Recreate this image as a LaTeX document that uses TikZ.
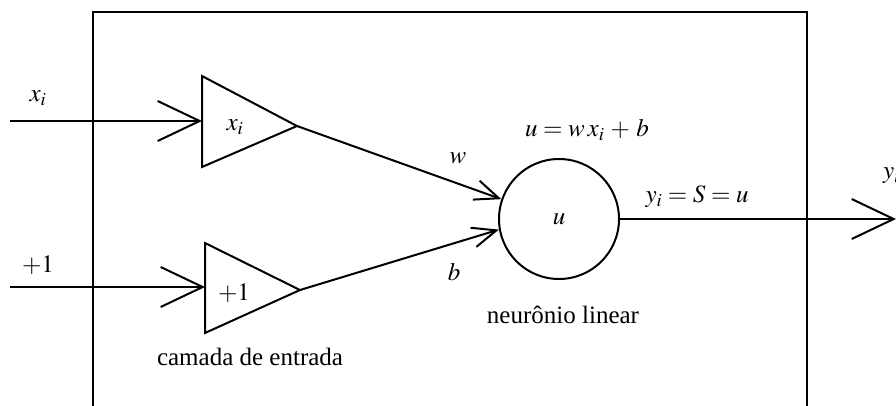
\documentclass[tikz,border=0pt]{standalone}
\usepackage{mathptmx}
\usepackage{fontspec}
\setmainfont{Liberation Serif}
\usetikzlibrary{arrows.meta}

\begin{document}
\begin{tikzpicture}[x=1pt,y=-1pt,line width=2pt,
  every node/.style={font=\fontsize{25}{30}\selectfont,inner sep=0pt},
  bigbarb/.style={-{Straight Barb[length=42pt,width=40pt]}},
  smallbarb/.style={-{Straight Barb[length=24pt,width=20pt]}}]
  \useasboundingbox (0,0) rectangle (896,405);
  \clip (0,0) rectangle (896,405);
  % outer box (bottom edge out of view)
  \draw (93,12) rectangle (807,440);
  % input layer
  \coordinate (inx) at (10,121);
  \coordinate (inone) at (10,287);
  \draw (202,76) -- (202,167) -- (297,126) coordinate (tipx) -- cycle;
  \draw (205,243) -- (205,333) -- (300,290) coordinate (tipone) -- cycle;
  \coordinate (trix) at (202,121);
  \coordinate (trione) at (205,287);
  \draw[bigbarb] (inx) -- (trix);
  \draw[bigbarb] (inone) -- (trione);
  \node (lblx) at (38,98) {$x_i$};
  \node (lblone) at (38,265) {$+1$};
  \node (trixtxt) at (235,127) {$x_i$};
  \node (trionetxt) at (234,293) {$+1$};
  \node (camada) at (250,357) {camada de entrada};
  % linear neuron
  \node[circle,draw,minimum size=120pt] (neuron) at (559,219) {$u$};
  \draw[smallbarb] (tipx) -- (neuron.161);
  \draw[smallbarb] (tipone) -- (neuron.190);
  \node (lblw) at (458,158) {$w$};
  \node (lblb) at (454,272) {$b$};
  \node (eqn) at (587,130) {$u = w\,x_i \,+\, b$};
  \node (neurtxt) at (563,315) {neurônio linear};
  % output
  \coordinate (outend) at (896,219);
  \draw[bigbarb] (neuron.east) -- (outend);
  \node (eqy) at (697,197) {$y_i = S = u$};
  \node[anchor=west] (lbly) at (882,176) {$y_i$};
\end{tikzpicture}
\end{document}
